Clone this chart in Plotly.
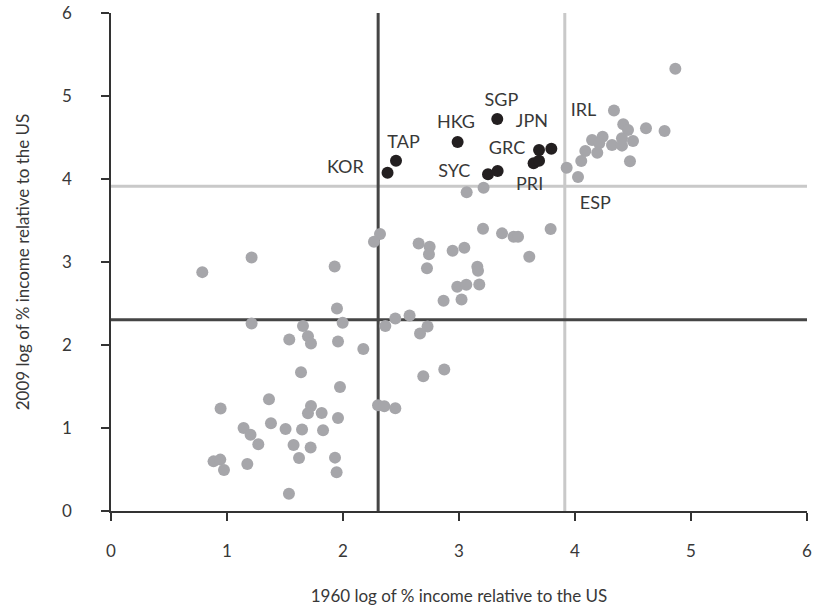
import plotly.graph_objects as go

# Other countries (gray): 1960 vs 2009 log of % income relative to the US
other_x = [4.865, 4.336, 4.416, 4.457, 4.612, 4.772, 4.147, 4.238, 4.209, 4.319,
           4.405, 4.405, 4.500, 4.089, 4.192, 4.054, 4.474, 3.928, 4.026, 3.212,
           3.066, 3.207, 3.371, 3.471, 3.509, 3.790, 2.652, 2.747, 2.741, 2.945,
           3.046, 3.606, 2.724, 3.158, 3.164, 2.985, 3.063, 3.175, 2.867, 3.022,
           2.574, 2.729, 2.664, 2.319, 2.267, 1.928, 1.948, 1.655, 1.997, 2.365,
           2.451, 1.537, 1.698, 1.724, 1.957, 2.175, 1.212, 0.787, 1.212, 1.638,
           1.974, 1.362, 0.945, 1.724, 1.698, 1.816, 1.957, 2.302, 2.356, 2.451,
           1.143, 1.203, 1.379, 1.505, 1.647, 1.828, 1.270, 1.574, 1.721, 1.621,
           1.931, 0.884, 0.942, 0.974, 1.175, 1.945, 1.534, 2.692, 2.873]
other_y = [5.327, 4.824, 4.660, 4.591, 4.612, 4.579, 4.470, 4.510, 4.431, 4.410,
           4.491, 4.402, 4.458, 4.338, 4.317, 4.217, 4.214, 4.136, 4.024, 3.895,
           3.840, 3.400, 3.345, 3.304, 3.304, 3.397, 3.224, 3.183, 3.092, 3.135,
           3.171, 3.063, 2.926, 2.942, 2.894, 2.701, 2.725, 2.730, 2.532, 2.549,
           2.356, 2.223, 2.139, 3.337, 3.244, 2.947, 2.440, 2.230, 2.267, 2.230,
           2.320, 2.066, 2.106, 2.018, 2.042, 1.953, 2.259, 2.878, 3.055, 1.672,
           1.495, 1.346, 1.234, 1.265, 1.177, 1.181, 1.121, 1.274, 1.262, 1.238,
           1.000, 0.920, 1.057, 0.988, 0.981, 0.972, 0.803, 0.795, 0.764, 0.638,
           0.643, 0.598, 0.619, 0.493, 0.566, 0.466, 0.209, 1.624, 1.704]

# Highlighted economies (black)
hi_x = [2.384, 2.457, 2.988, 3.330, 3.250, 3.333, 3.796, 3.690, 3.643, 3.690]
hi_y = [4.076, 4.221, 4.446, 4.724, 4.057, 4.097, 4.365, 4.350, 4.189, 4.221]

# Country labels and their positions
label_text = ["KOR", "TAP", "HKG", "SGP", "JPN", "GRC", "SYC", "PRI", "IRL", "ESP"]
label_x = [2.020, 2.522, 2.974, 3.365, 3.629, 3.414, 2.959, 3.609, 4.074, 4.175]
label_y = [4.129, 4.422, 4.663, 4.932, 4.679, 4.358, 4.076, 3.916, 4.812, 3.698]

# Threshold lines: log(10%) and log(50%)
low_threshold = 2.303
high_threshold = 3.912

x_ticks = [0, 1, 2, 3, 4, 5, 6]
y_ticks = [0, 1, 2, 3, 4, 5, 6]

FONT = "Lato, 'Open Sans', sans-serif"
TXT = "#383838"
DARK = "#454545"
LIGHT = "#c9c9c9"

fig = go.Figure()

fig.add_trace(go.Scatter(
    x=other_x, y=other_y, mode="markers",
    marker=dict(size=12, color="#a6a6aa", line=dict(width=0)),
    hoverinfo="skip", showlegend=False))

fig.add_trace(go.Scatter(
    x=hi_x, y=hi_y, mode="markers",
    marker=dict(size=12, color="#231f20", line=dict(width=0)),
    hoverinfo="skip", showlegend=False))

fig.add_trace(go.Scatter(
    x=label_x, y=label_y, mode="text", text=label_text,
    textfont=dict(family=FONT, size=18, color=TXT),
    textposition="middle center", hoverinfo="skip", showlegend=False))

# Reference lines
fig.add_shape(type="line", xref="x", yref="y", x0=high_threshold, x1=high_threshold,
              y0=0, y1=6, line=dict(color=LIGHT, width=3), layer="below")
fig.add_shape(type="line", xref="x", yref="y", x0=0, x1=6,
              y0=high_threshold, y1=high_threshold, line=dict(color=LIGHT, width=3), layer="below")
fig.add_shape(type="line", xref="x", yref="y", x0=low_threshold, x1=low_threshold,
              y0=0, y1=6, line=dict(color=DARK, width=3), layer="below")
fig.add_shape(type="line", xref="x", yref="y", x0=0, x1=6,
              y0=low_threshold, y1=low_threshold, line=dict(color=DARK, width=3), layer="below")

axis_common = dict(
    range=[0, 6], showgrid=False, zeroline=False,
    showline=True, linecolor="#333333", linewidth=1.5,
    ticks="outside", ticklen=8, tickwidth=1.5, tickcolor="#333333",
    tickfont=dict(family=FONT, size=17, color=TXT),
    fixedrange=True,
)

fig.update_layout(
    width=817, height=609,
    margin=dict(l=111, r=10, t=13, b=98, autoexpand=False),
    paper_bgcolor="white", plot_bgcolor="white",
    font=dict(family=FONT, color=TXT),
    xaxis=dict(**axis_common, tickvals=x_ticks, ticktext=[str(v) for v in x_ticks],
               ticklabelstandoff=16,
               title=dict(text="1960 log of % income relative to the US",
                          font=dict(family=FONT, size=17, color=TXT), standoff=30)),
    yaxis=dict(**axis_common, tickvals=y_ticks, ticktext=[str(v) for v in y_ticks],
               ticklabelstandoff=26,
               title=dict(text="2009 log of % income relative to the US",
                          font=dict(family=FONT, size=17, color=TXT), standoff=28)),
)

fig.write_html("out.html")
